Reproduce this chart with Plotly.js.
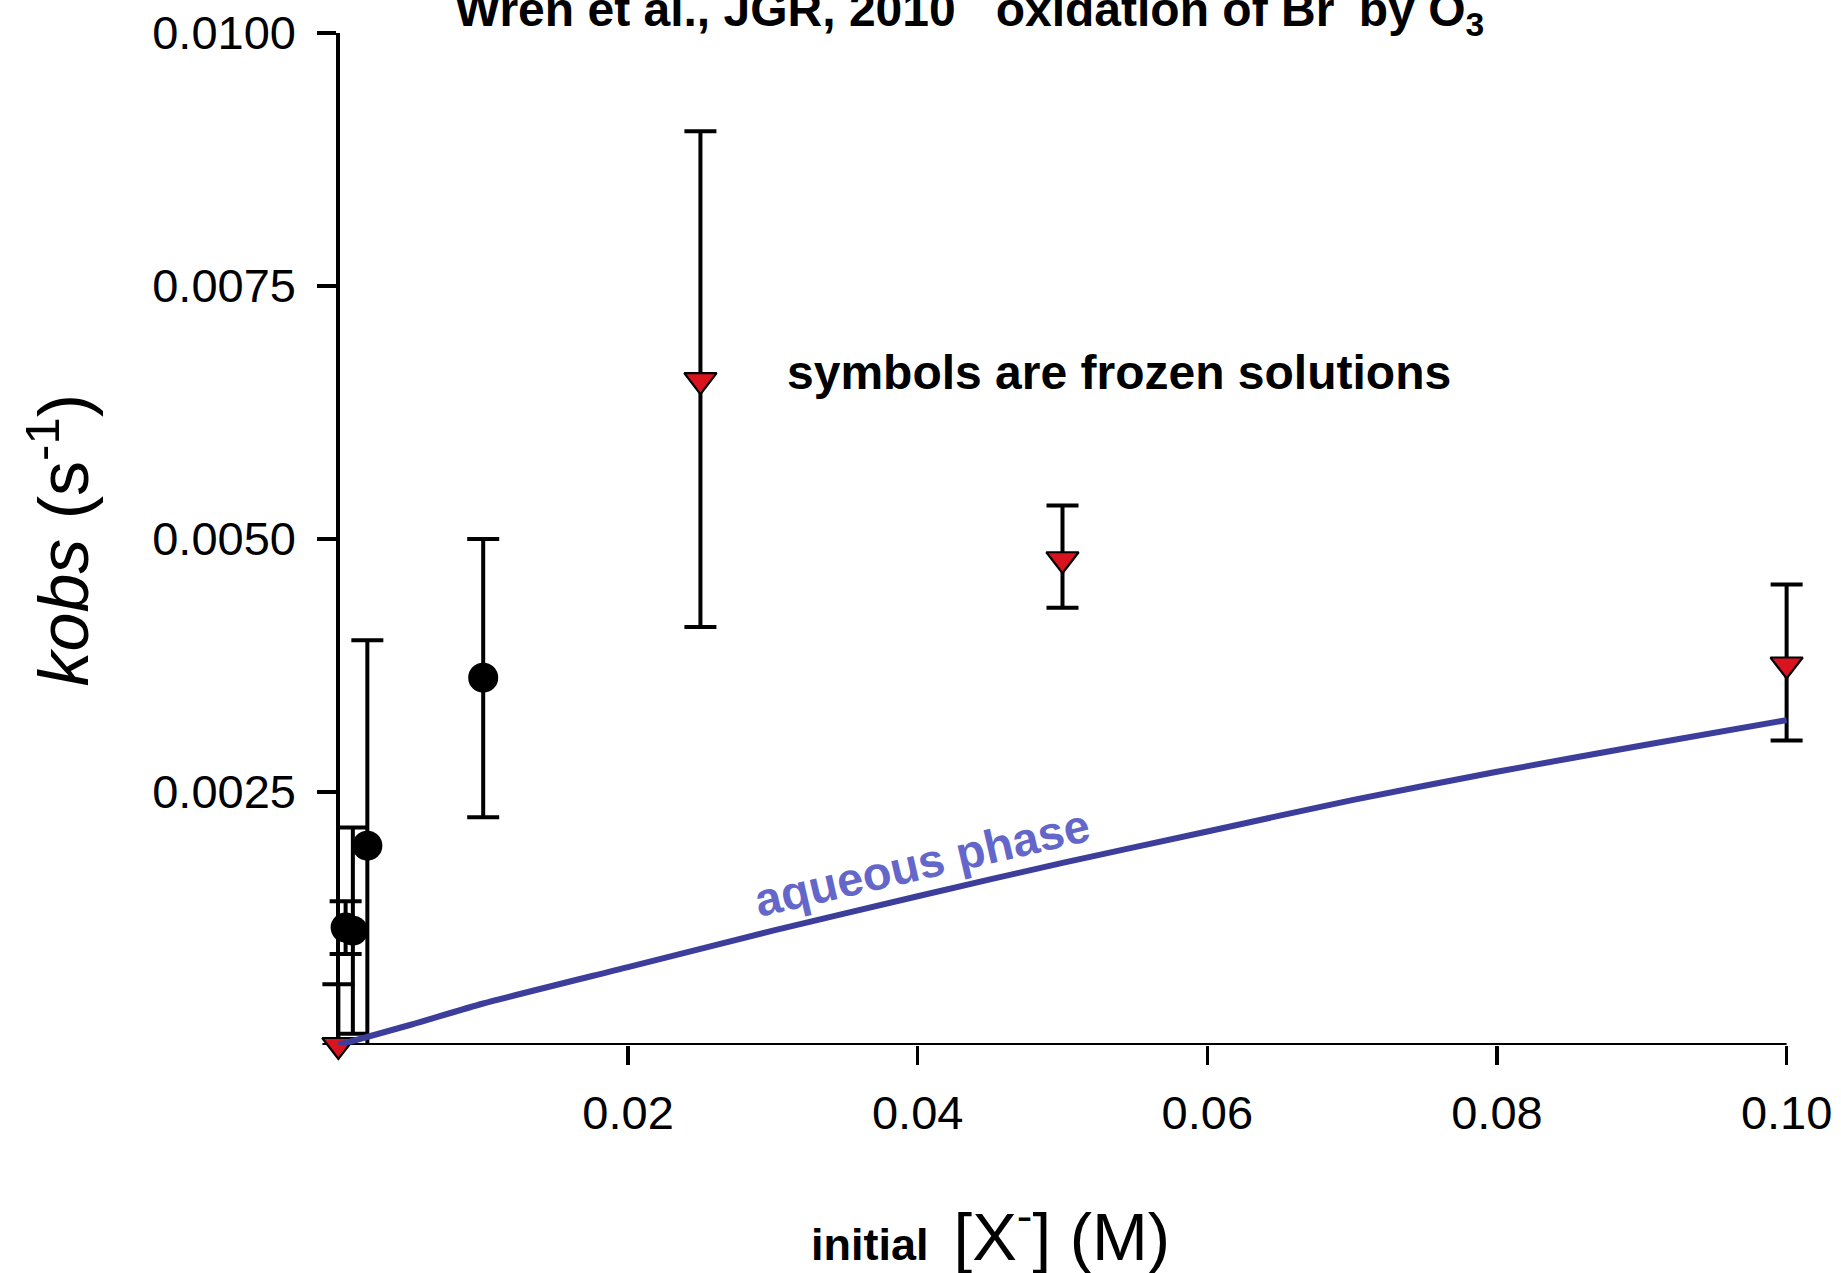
<!DOCTYPE html>
<html>
<head>
<meta charset="utf-8">
<script src="https://cdn.plot.ly/plotly-3.0.1.min.js"></script>
<style>
html, body { margin: 0; padding: 0; background: #fff; }
#chart { width: 1841px; height: 1273px; }
</style>
</head>
<body>
<div id="chart"></div>
<script>
// Frozen solutions, black circles
const circleX = [0.0005, 0.001, 0.002, 0.01];
const circleY = [0.00116, 0.00113, 0.00197, 0.00363];
const circleErrPlus = [0.00026, 0.00102, 0.00203, 0.00137];
const circleErrMinus = [0.00026, 0.00102, 0.00197, 0.00138];

// Frozen solutions, red triangles
const triX = [0, 0.025, 0.05, 0.1];
const triY = [0, 0.00657, 0.0048, 0.00376];
const triErrPlus = [0.0006, 0.00246, 0.00053, 0.00079];
const triErrMinus = [0, 0.00244, 0.00048, 0.00075];

// Aqueous phase curve
const aqX = [0, 0.005, 0.01, 0.02, 0.03, 0.04, 0.05, 0.06, 0.07, 0.08, 0.09, 0.1];
const aqY = [0, 0.0002, 0.00041, 0.00077, 0.00113, 0.00147, 0.0018, 0.00211, 0.00242, 0.0027, 0.00296, 0.00321];

// Axis extents and ticks
const xMin = 0, xMax = 0.1;
const yMin = 0, yMax = 0.01;
const xTicks = [0.02, 0.04, 0.06, 0.08, 0.10];
const xTickText = ['0.02', '0.04', '0.06', '0.08', '0.10'];
const yTicks = [0.0025, 0.005, 0.0075, 0.01];
const yTickText = ['0.0025', '0.0050', '0.0075', '0.0100'];

const FONT = '"Liberation Sans", Arial, Helvetica, sans-serif';

// plot geometry (pixels): x=0 at 338, x=0.1 at 1787; small padding so edge marks are not clipped
const pxPerX = 1449 / (xMax - xMin);
const padX = 0.0012;
const xRange = [xMin - padX, xMax + padX];
const plotW = (xRange[1] - xRange[0]) * pxPerX;
const marginL = 338 - padX * pxPerX;
const marginR = 1841 - marginL - plotW;
const yAxisPos = padX / (xRange[1] - xRange[0]);

const errStyle = { thickness: 4, width: 16, color: '#000' };

const traces = [
  {
    x: circleX, y: circleY, type: 'scatter', mode: 'markers', cliponaxis: false,
    marker: { symbol: 'circle', size: 30, color: '#000' },
    error_y: Object.assign({ type: 'data', symmetric: false, array: circleErrPlus, arrayminus: circleErrMinus }, errStyle),
    showlegend: false, hoverinfo: 'skip'
  },
  {
    x: triX, y: triY, type: 'scatter', mode: 'markers', cliponaxis: false,
    marker: { symbol: 'triangle-down', size: 28, color: '#d9141e', line: { color: '#000', width: 2.2 } },
    error_y: Object.assign({ type: 'data', symmetric: false, array: triErrPlus, arrayminus: triErrMinus }, errStyle),
    showlegend: false, hoverinfo: 'skip'
  },
  {
    x: aqX, y: aqY, type: 'scatter', mode: 'lines', cliponaxis: false,
    line: { color: '#3d3d9c', width: 6, shape: 'spline', smoothing: 0.6 },
    showlegend: false, hoverinfo: 'skip'
  }
];

const layout = {
  width: 1841, height: 1273,
  paper_bgcolor: '#fff', plot_bgcolor: '#fff',
  margin: { l: marginL, r: marginR, t: 33, b: 228, pad: 0 },
  font: { family: FONT, size: 47, color: '#000' },
  title: {
    text: '<b>Wren et al., JGR, 2010\u00A0\u00A0\u00A0oxidation of Br<sup>-</sup> by O<sub>3</sub></b>',
    font: { family: FONT, size: 48, color: '#000' },
    x: 455 / 1841, xanchor: 'left', xref: 'container',
    y: 1 - 9.5 / 1273, yanchor: 'middle', yref: 'container'
  },
  xaxis: {
    range: xRange, showgrid: false, zeroline: false,
    showline: false,
    ticks: 'outside', ticklen: 19, tickwidth: 3.5, tickcolor: '#000',
    tickvals: xTicks, ticktext: xTickText,
    tickfont: { family: FONT, size: 47, color: '#000' },
    ticklabelstandoff: 8, layer: 'below traces'
  },
  yaxis: {
    range: [yMin, yMax], showgrid: false, zeroline: false,
    anchor: 'free', position: yAxisPos,
    showline: true, linecolor: '#000', linewidth: 4,
    ticks: 'outside', ticklen: 19, tickwidth: 3.5, tickcolor: '#000',
    tickvals: yTicks, ticktext: yTickText,
    tickfont: { family: FONT, size: 47, color: '#000' },
    ticklabelstandoff: 12, layer: 'below traces'
  },
  shapes: [
    {
      type: 'line', xref: 'x', yref: 'y', x0: xMin, x1: xMax, y0: yMin, y1: yMin,
      line: { color: '#000', width: 4 }, layer: 'below'
    }
  ],
  annotations: [
    {
      text: '<b>symbols are frozen solutions</b>',
      x: 0.03085, y: 0.00665, xref: 'x', yref: 'y', xanchor: 'left', yanchor: 'middle',
      showarrow: false, font: { family: FONT, size: 48, color: '#000' }
    },
    {
      text: '<b>aqueous phase</b>',
      x: 0.0403, y: 0.0018, xref: 'x', yref: 'y', xanchor: 'center', yanchor: 'middle',
      textangle: -13, showarrow: false, font: { family: FONT, size: 47, color: '#6466c9' }
    },
    {
      text: '<b>initial</b>\u00A0\u00A0<span style="font-size:67px">[X<sup>-</sup>] (M)</span>',
      x: (990 - marginL) / plotW, xref: 'paper', y: -(1232 - 1045) / 1012, yref: 'paper',
      xanchor: 'center', yanchor: 'middle',
      showarrow: false, font: { family: FONT, size: 45, color: '#000' }
    },
    {
      text: '<i>kobs</i> (s<sup>-1</sup>)',
      x: (58 - marginL) / plotW, xref: 'paper', y: (1045 - 540) / 1012, yref: 'paper',
      xanchor: 'center', yanchor: 'middle', textangle: -90,
      showarrow: false, font: { family: FONT, size: 70, color: '#000' }
    }
  ]
};

Plotly.newPlot('chart', traces, layout, { staticPlot: true, displayModeBar: false });
</script>
</body>
</html>
